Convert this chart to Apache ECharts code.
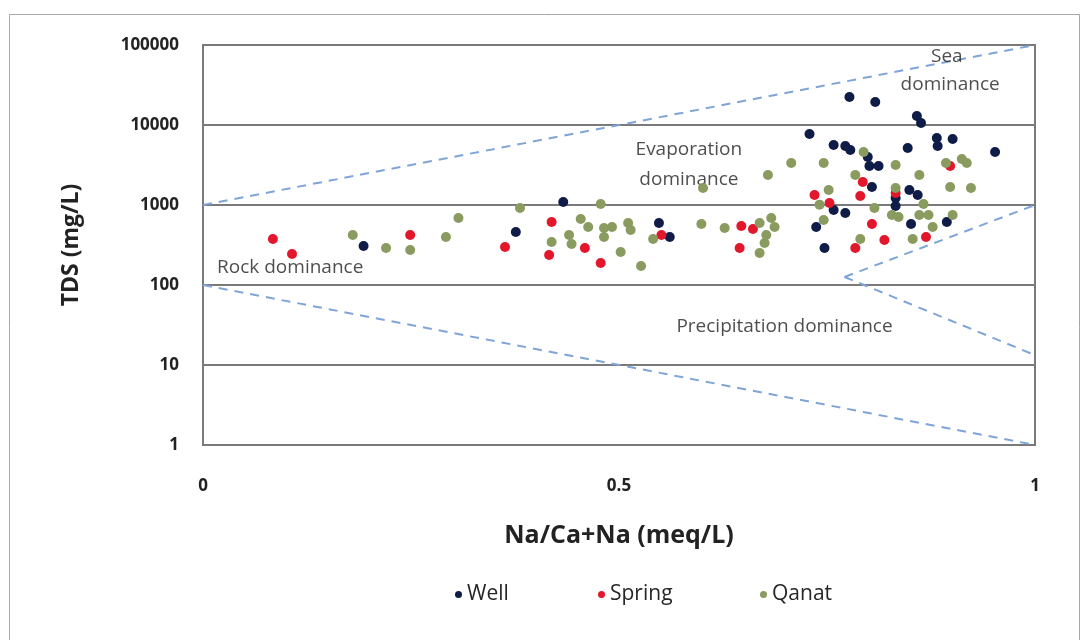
<!DOCTYPE html>
<html>
<head>
<meta charset="utf-8">
<script src="https://cdn.jsdelivr.net/npm/echarts@6/dist/echarts.min.js"></script>
<style>html,body{margin:0;padding:0;background:#fff;}#c{width:1082px;height:640px;}</style>
</head>
<body>
<div id="c"></div>
<script>
const yTicks = [1, 10, 100, 1000, 10000, 100000];
const xTicks = [0, 0.5, 1];

const wellData = [
  [0.193,307],[0.376,460],[0.433,1090],[0.548,596],[0.561,398],
  [0.729,7720],[0.758,5623],[0.772,5464],[0.778,4870],[0.758,866],[0.772,794],
  [0.737,531],[0.747,290],[0.777,22387],[0.808,19387],[0.858,12961],[0.863,10593],
  [0.847,5158],[0.882,6879],[0.883,5464],[0.901,6683],[0.952,4597],[0.799,3981],
  [0.801,3072],[0.812,3072],[0.804,1679],[0.8325,1223],[0.8325,971],[0.849,1540],
  [0.859,1334],[0.851,579],[0.894,613]
];
const springData = [
  [0.084,376],[0.107,244],[0.249,422],[0.363,298],[0.419,613],[0.416,237],
  [0.459,290],[0.478,188],[0.551,422],[0.647,546],[0.661,501],[0.645,290],
  [0.735,1334],[0.753,1059],[0.793,1939],[0.790,1296],[0.898,3072],[0.8325,1413],
  [0.804,579],[0.819,365],[0.869,398],[0.784,290]
];
const qanatData = [
  [0.180,422],[0.220,290],[0.249,274],[0.292,398],[0.307,688],[0.381,917],
  [0.419,345],[0.454,668],[0.463,531],[0.440,422],[0.443,325],[0.478,1029],
  [0.482,516],[0.4916,531],[0.482,398],[0.502,258],[0.511,596],[0.514,487],
  [0.541,376],[0.5265,173],[0.601,1632],[0.599,579],[0.627,516],[0.669,596],
  [0.683,688],[0.687,531],[0.677,422],[0.675,335],[0.669,251],[0.679,2371],
  [0.707,3350],[0.746,3350],[0.752,1540],[0.746,649],[0.741,1010],[0.794,4597],
  [0.784,2371],[0.8325,3162],[0.861,2371],[0.893,3350],[0.912,3758],[0.918,3350],
  [0.898,1679],[0.923,1632],[0.8325,1632],[0.807,917],[0.828,750],[0.836,708],
  [0.861,750],[0.872,750],[0.866,1029],[0.901,750],[0.877,531],[0.853,376],[0.790,376]
];

// Gibbs boundary lines
const upperBoundary = [[0,1000],[1,100000]];
const lowerBoundary = [[0,100],[1,1]];
const precipUpper = [[0.771,126],[1,1000]];
const precipLower = [[0.771,126],[1,13.3]];

// Region annotations [x, y, text, align]
const annotations = [
  [0.894, 70795, 'Sea', 'center'],
  [0.898, 31623, 'dominance', 'center'],
  [0.584, 4870, 'Evaporation', 'center'],
  [0.584, 2054, 'dominance', 'center'],
  [0.0169, 163, 'Rock dominance', 'left'],
  [0.569, 29.9, 'Precipitation dominance', 'left']
];

const seriesNames = ['Well', 'Spring', 'Qanat'];
const seriesColors = ['#0f1c48', '#e3172c', '#8a9b5f'];

const chart = echarts.init(document.getElementById('c'));
const dashStyle = {color: '#7fa4d8', width: 2, type: [9, 7]};
function boundary(d){
  return {type:'line', data:d, symbol:'none', lineStyle:dashStyle, silent:true, z:1, legendHoverLink:false};
}
const font = 'Open Sans, Liberation Sans, sans-serif';

chart.setOption({
  animation: false,
  backgroundColor: '#fff',
  graphic: [{type:'rect', shape:{x:9.5, y:14.5, width:1070, height:640}, style:{fill:'none', stroke:'#a8a8a8', lineWidth:1}}],
  grid: {left:203, right:47, top:45, bottom:195, show:true, borderColor:'#7a7a7a', borderWidth:2},
  legend: [
    {data:['Well'], left:450, top:579},
    {data:['Spring'], left:593, top:579},
    {data:['Qanat'], left:755, top:579}
  ].map(l => Object.assign(l, {icon:'circle', itemWidth:7, itemHeight:7, itemGap:6,
      textStyle:{fontFamily:font, fontSize:21, color:'#262626'}})),
  xAxis: {
    type:'value', min:xTicks[0], max:xTicks[xTicks.length-1], interval:0.5,
    name:'Na/Ca+Na (meq/L)', nameLocation:'middle', nameGap:78,
    nameTextStyle:{fontFamily:font, fontSize:25, fontWeight:'bold', color:'#222'},
    axisLine:{lineStyle:{color:'#7a7a7a', width:2}}, axisTick:{show:false}, splitLine:{show:false},
    axisLabel:{fontFamily:font, fontSize:17, fontWeight:'bold', color:'#222', margin:33,
      formatter: v => xTicks.includes(v) ? String(v) : ''}
  },
  yAxis: {
    type:'log', logBase:10, min:yTicks[0], max:yTicks[yTicks.length-1],
    name:'TDS (mg/L)', nameLocation:'middle', nameGap:120,
    nameTextStyle:{fontFamily:font, fontSize:23, fontWeight:'bold', color:'#222'},
    axisLine:{lineStyle:{color:'#7a7a7a', width:2}}, axisTick:{show:false},
    splitLine:{lineStyle:{color:'#7a7a7a', width:2}},
    axisLabel:{fontFamily:font, fontSize:17, fontWeight:'bold', color:'#222', margin:24,
      formatter: v => String(v)}
  },
  series: [
    boundary(upperBoundary), boundary(lowerBoundary), boundary(precipUpper), boundary(precipLower),
    {type:'scatter', name:'Annot', data:annotations.map(a => ({value:[a[0],a[1]], label:{align:a[3]}, name:a[2]})),
      symbolSize:0, silent:true, z:3,
      label:{show:true, position:'inside', formatter: p => p.name, fontFamily:font, fontSize:19, color:'#222'}},
    ...seriesNames.map((n, i) => ({
      type:'scatter', name:n, data:[wellData, springData, qanatData][i], symbolSize:10,
      itemStyle:{color:seriesColors[i], opacity:1}, z:5
    }))
  ]
});
</script>
</body>
</html>
